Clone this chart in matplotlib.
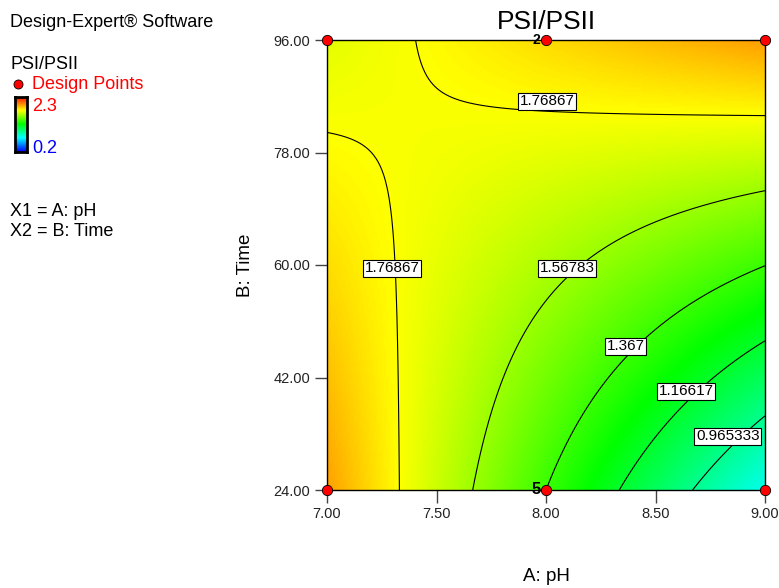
import numpy as np
import matplotlib.pyplot as plt
from matplotlib.colors import LinearSegmentedColormap

plt.rcParams['font.family'] = ['Liberation Sans', 'DejaVu Sans']

# fitted model in coded units (A = pH, B = Time), square terms ~ 0
model_coefs = {'const': 1.6056, 'A': -0.2366, 'B': 0.2386, 'AB': 0.3634}

ph_range = [7.0, 9.0]
time_range = [24.0, 96.0]
ph_ticks = [7.0, 7.5, 8.0, 8.5, 9.0]
time_ticks = [24.0, 42.0, 60.0, 78.0, 96.0]

contour_levels = [0.965333, 1.16617, 1.367, 1.56783, 1.76867]

design_ph = [7.0, 8.0, 9.0, 7.0, 8.0, 9.0]
design_time = [24.0, 24.0, 24.0, 96.0, 96.0, 96.0]
replicate_ph = [8.0, 8.0]
replicate_time = [24.0, 96.0]
replicate_count = ['5', '2']

resp_low, resp_high = 0.2, 2.3

W, H = 779, 588


def fx(px):
    return px / W


def fy(py):
    return 1 - py / H


de_cmap = LinearSegmentedColormap.from_list(
    'de', [(0, '#0000ff'), (0.25, '#00ffff'), (0.5, '#00ff00'),
           (0.75, '#ffff00'), (1, '#ff0000')])

fig = plt.figure(figsize=(W / 100, H / 100), dpi=100)
ax = fig.add_axes([fx(327), fy(490), fx(765) - fx(327), fy(40) - fy(490)])

# response surface on a grid
ph = np.linspace(ph_range[0], ph_range[1], 200)
tm = np.linspace(time_range[0], time_range[1], 200)
P, T = np.meshgrid(ph, tm)
a = (P - 8.0) / 1.0
b = (T - 60.0) / 36.0
Z = (model_coefs['const'] + model_coefs['A'] * a + model_coefs['B'] * b
     + model_coefs['AB'] * a * b)

ax.imshow(Z, extent=[ph_range[0], ph_range[1], time_range[0], time_range[1]],
          origin='lower', aspect='auto', cmap=de_cmap,
          vmin=resp_low, vmax=resp_high, interpolation='bilinear')

cs = ax.contour(P, T, Z, levels=contour_levels, colors='black', linewidths=0.8)
# where the boxed labels sit (label centres)
label_pos = [(8.005, 86.2), (7.297, 59.5), (8.096, 59.5),
             (8.365, 47.0), (8.64, 39.8), (8.83, 32.6)]
labels = ax.clabel(cs, fmt='%g', manual=label_pos, inline=False, fontsize=11)
for t, pos in zip(labels, label_pos):
    t.set_position(pos)
    t.set_rotation(0)
    t.set_color('black')
    t.set_bbox(dict(boxstyle='square,pad=0.1', fc='white', ec='black', lw=0.8))

# design points
ax.scatter(design_ph, design_time, s=55, color='#ff0000', edgecolors='black',
           linewidths=0.6, zorder=5, clip_on=False)
for xp, yp, n in zip(replicate_ph, replicate_time, replicate_count):
    ax.annotate(n, xy=(xp, yp), xytext=(-4, 0), textcoords='offset points',
                ha='right', va='center', fontweight='bold',
                fontsize=12 if n == '5' else 10, zorder=6, annotation_clip=False)

ax.set_xlim(ph_range)
ax.set_ylim(time_range)
ax.set_xticks(ph_ticks)
ax.set_yticks(time_ticks)
ax.set_xticklabels(['%.2f' % v for v in ph_ticks])
ax.set_yticklabels(['%.2f' % v for v in time_ticks])
ax.tick_params(direction='out', length=9, width=1, color='#444444',
               labelsize=10.5, labelcolor='#222222', pad=3)
for sp in ax.spines.values():
    sp.set_linewidth(1)

ax.set_title('PSI/PSII', fontsize=19, pad=8)
ax.set_xlabel('A: pH', fontsize=13.5, labelpad=34)
ax.set_ylabel('B: Time', fontsize=13.5, labelpad=14)

# left-hand legend block
fig.text(fx(10), fy(27), 'Design-Expert\u00ae Software', fontsize=13, va='baseline')
fig.text(fx(10), fy(69), 'PSI/PSII', fontsize=13, va='baseline')
fig.text(fx(32), fy(89), 'Design Points', fontsize=13, va='baseline', color='#ff0000')
fig.lines.append(plt.Line2D([fx(18)], [fy(84)], marker='o', markersize=6.5,
                            color='#ff0000', markeredgecolor='black',
                            markeredgewidth=0.6, transform=fig.transFigure))

cax = fig.add_axes([fx(15), fy(152), fx(27) - fx(15), fy(97) - fy(152)])
grad = np.linspace(resp_low, resp_high, 100).reshape(-1, 1)
cax.imshow(grad, origin='lower', aspect='auto', cmap=de_cmap,
           vmin=resp_low, vmax=resp_high)
cax.set_xticks([])
cax.set_yticks([])
for sp in cax.spines.values():
    sp.set_linewidth(2)
fig.text(fx(32), fy(111), '2.3', fontsize=13, va='baseline', color='#ff0000')
fig.text(fx(32), fy(153), '0.2', fontsize=13, va='baseline', color='#0000ff')

fig.text(fx(10), fy(216), 'X1 = A: pH', fontsize=13, va='baseline')
fig.text(fx(10), fy(236), 'X2 = B: Time', fontsize=13, va='baseline')

fig.savefig('out.png', dpi=100)
